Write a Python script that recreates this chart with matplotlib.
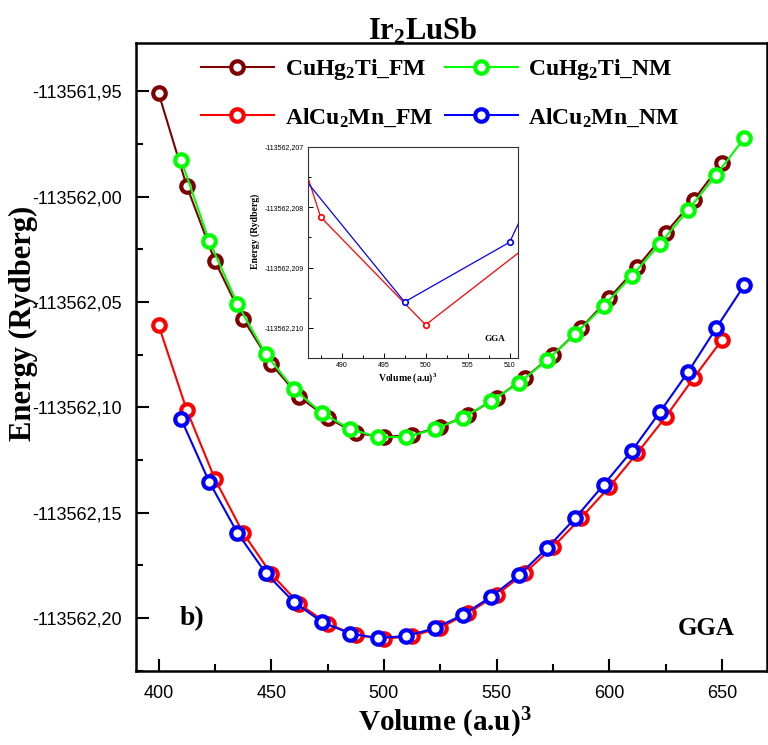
import matplotlib
matplotlib.use("Agg")
import matplotlib.pyplot as plt
from matplotlib.ticker import FixedLocator, FuncFormatter
from matplotlib.font_manager import FontProperties

plt.rcParams['font.family'] = 'Liberation Sans'
plt.rcParams['mathtext.default'] = 'regular'

# volumes (a.u)^3
vol_fm = [400, 412.5, 425, 437.5, 450, 462.5, 475, 487.5, 500, 512.5, 525,
          537.5, 550, 562.5, 575, 587.5, 600, 612.5, 625, 637.5, 650]
vol_nm = [410, 422.5, 435, 447.5, 460, 472.5, 485, 497.5, 510, 522.5, 535,
          547.5, 560, 572.5, 585, 597.5, 610, 622.5, 635, 647.5, 660]

# total energies (Rydberg)
e_cuhg2ti_fm = [-113561.9507, -113561.9949, -113562.0305, -113562.0580, -113562.0794,
                -113562.0951, -113562.1050, -113562.1122, -113562.1141, -113562.1131,
                -113562.1093, -113562.1036, -113562.0955, -113562.0860, -113562.0751,
                -113562.0623, -113562.0481, -113562.0333, -113562.0172, -113562.0015,
                -113561.9840]
e_cuhg2ti_nm = [-113561.9825, -113562.0210, -113562.0509, -113562.0746, -113562.0913,
                -113562.1027, -113562.1103, -113562.1141, -113562.1141, -113562.1103,
                -113562.1050, -113562.0970, -113562.0884, -113562.0775, -113562.0651,
                -113562.0519, -113562.0376, -113562.0224, -113562.0063, -113561.9896,
                -113561.9721]
e_alcu2mn_fm = [-113562.0609, -113562.1012, -113562.1340, -113562.1596, -113562.1791,
                -113562.1934, -113562.20274, -113562.20816, -113562.20995, -113562.20860,
                -113562.2047, -113562.1976, -113562.1891, -113562.1786, -113562.1663,
                -113562.1525, -113562.1378, -113562.1216, -113562.1046, -113562.0860,
                -113562.0680]
e_alcu2mn_nm = [-113562.1055, -113562.1354, -113562.1596, -113562.1786, -113562.1924,
                -113562.2019, -113562.20743, -113562.20957, -113562.20858, -113562.20490,
                -113562.1986, -113562.1900, -113562.1796, -113562.1668, -113562.1525,
                -113562.1368, -113562.1207, -113562.1022, -113562.0832, -113562.0623,
                -113562.0419]

labels = ['CuHg$_2$Ti_FM', 'CuHg$_2$Ti_NM', 'AlCu$_2$Mn_FM', 'AlCu$_2$Mn_NM']
colors = ['#800000', '#00ff00', '#ff0000', '#0000ff']

x_ticks = [400, 450, 500, 550, 600, 650]
x_minor = [425, 475, 525, 575, 625]
y_ticks = [-113562.20, -113562.15, -113562.10, -113562.05, -113562.00, -113561.95]
y_minor = [-113562.225, -113562.175, -113562.125, -113562.075, -113562.025, -113561.975]

in_x_ticks = [490, 495, 500, 505, 510]
in_x_minor = [487.5, 492.5, 497.5, 502.5, 507.5]
in_y_ticks = [-113562.210, -113562.209, -113562.208, -113562.207]
in_y_minor = [-113562.2095, -113562.2085, -113562.2075]

serif = 'Liberation Serif'

fig = plt.figure(figsize=(7.68, 7.45), dpi=100)
ax = fig.add_axes([136/768, 1-671/745, 631/768, 628/745])

style = dict(marker='o', ms=9, mew=3, mfc='white', lw=1.5)
l1, = ax.plot(vol_fm, e_cuhg2ti_fm, color=colors[0], label=labels[0], **style)
l2, = ax.plot(vol_nm, e_cuhg2ti_nm, color=colors[1], label=labels[1], **style)
l3, = ax.plot(vol_fm, e_alcu2mn_fm, color=colors[2], label=labels[2], **style)
l4, = ax.plot(vol_nm, e_alcu2mn_nm, color=colors[3], label=labels[3], **style)

ax.set_xlim(390, 670)
ax.set_ylim(-113562.2252, -113561.927)
ax.xaxis.set_major_locator(FixedLocator(x_ticks))
ax.xaxis.set_minor_locator(FixedLocator(x_minor))
ax.yaxis.set_major_locator(FixedLocator(y_ticks))
ax.yaxis.set_minor_locator(FixedLocator(y_minor))
ax.yaxis.set_major_formatter(FuncFormatter(lambda v, p: f"{v:.2f}".replace('.', ',')))
ax.tick_params(which='major', direction='in', length=9, width=1.5, labelsize=13, pad=10,
               top=False, right=False)
ax.tick_params(which='minor', direction='in', length=5, width=1.5, top=False, right=False)
for s in ax.spines.values():
    s.set_linewidth(1.8)

ax.set_xlabel('Volume (a.u)$^3$', fontsize=21, fontweight='bold', family=serif)
ax.xaxis.set_label_coords(0.49, -0.056)
ax.set_ylabel('Energy (Rydberg)', fontsize=22, fontweight='bold', family=serif)
ax.yaxis.set_label_coords(-0.155, 0.554)

ax.text(0.089, 0.084, 'b)', transform=ax.transAxes, ha='center', va='center',
        fontsize=20, fontweight='bold', family=serif)
ax.text(0.903, 0.068, 'GGA', transform=ax.transAxes, ha='center', va='center',
        fontsize=18, fontweight='bold', family=serif)

ax.legend(handles=[l1, l3, l2, l4], ncol=2, loc='center',
          bbox_to_anchor=(440/768, 1-93/745), bbox_transform=fig.transFigure,
          frameon=False, prop=FontProperties(family=serif, weight='bold', size=17),
          handlelength=3.1, handletextpad=0.45, columnspacing=0.5, labelspacing=1.0,
          numpoints=1)

fig.text(423/768, 1-39/745, 'Ir$_2$LuSb', ha='center', va='baseline',
         fontsize=22, fontweight='bold', family=serif)

# inset: zoom on the AlCu2Mn minimum
axin = fig.add_axes([308/768, 1-358/745, 210/768, 211/745])
axin.set_facecolor('white')
ins = dict(marker='o', ms=4, mew=1.2, mfc='white', lw=0.9)
axin.plot(vol_fm, e_alcu2mn_fm, color=colors[2], **ins)
axin.plot(vol_nm, e_alcu2mn_nm, color=colors[3], **ins)
axin.set_xlim(486, 511)
axin.set_ylim(-113562.2105, -113562.207)
axin.xaxis.set_major_locator(FixedLocator(in_x_ticks))
axin.xaxis.set_minor_locator(FixedLocator(in_x_minor))
axin.yaxis.set_major_locator(FixedLocator(in_y_ticks))
axin.yaxis.set_minor_locator(FixedLocator(in_y_minor))
axin.yaxis.set_major_formatter(FuncFormatter(lambda v, p: f"{v:.3f}".replace('.', ',')))
axin.tick_params(which='major', direction='in', length=3.5, width=0.7, labelsize=5, pad=3,
                 top=False, right=False)
axin.tick_params(which='minor', direction='in', length=2, width=0.7, top=False, right=False)
for s in axin.spines.values():
    s.set_linewidth(0.8)
    s.set_color('#333333')
axin.set_xlabel('Volume (a.u)$^3$', fontsize=7, fontweight='bold', family=serif)
axin.xaxis.set_label_coords(0.476, -0.062)
axin.set_ylabel('Energy (Rydberg)', fontsize=7, fontweight='bold', family=serif)
axin.yaxis.set_label_coords(-0.23, 0.6)
axin.text(0.89, 0.09, 'GGA', transform=axin.transAxes, ha='center', va='center',
          fontsize=6.5, fontweight='bold', family=serif)

fig.savefig('out.png', dpi=100)
